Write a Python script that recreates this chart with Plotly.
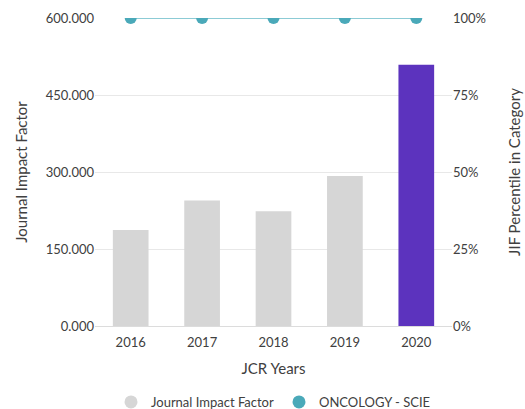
import plotly.graph_objects as go

years = ["2016", "2017", "2018", "2019", "2020"]
jif = [187.040, 244.585, 223.679, 292.278, 508.702]
percentile = [100, 100, 100, 100, 100]
bar_colors = ["#d6d6d6", "#d6d6d6", "#d6d6d6", "#d6d6d6", "#5c33be"]
series_names = ["Journal Impact Factor", "ONCOLOGY - SCIE"]

FONT = "Lato"
TXT = "#404040"

fig = go.Figure()
fig.add_trace(go.Bar(x=years, y=jif, marker=dict(color=bar_colors, line=dict(width=0)),
                     width=0.5, showlegend=False, yaxis="y"))
fig.add_trace(go.Scatter(x=years, y=percentile, mode="lines+markers", yaxis="y2",
                         line=dict(color="#8ccbd5", width=2),
                         marker=dict(color="#4aa9b9", size=12),
                         cliponaxis=True, showlegend=False))
# legend entries
fig.add_trace(go.Scatter(x=[None], y=[None], mode="markers", name=series_names[0],
                         marker=dict(color="#d6d6d6", size=13)))
fig.add_trace(go.Scatter(x=[None], y=[None], mode="markers", name=series_names[1],
                         marker=dict(color="#4aa9b9", size=13)))

fig.update_layout(
    width=525, height=409,
    margin=dict(l=95, r=73, t=18, b=83, autoexpand=False),
    plot_bgcolor="white", paper_bgcolor="white",
    font=dict(family=FONT, size=13, color=TXT),
    xaxis=dict(type="category", showgrid=False, showline=False, ticks="", automargin=False,
               ticklabelstandoff=7,
               title=dict(text="JCR Years", font=dict(size=15, color=TXT), standoff=14),
               tickfont=dict(size=13, color=TXT)),
    yaxis=dict(range=[0, 600], tick0=0, dtick=150, tickformat=".3f", automargin=False,
               gridcolor="#e8e8e8", zeroline=True, zerolinecolor="#dcdcdc", zerolinewidth=1,
               showline=False, ticks="",
               title=dict(text="Journal Impact Factor", font=dict(size=15, color=TXT), standoff=14),
               tickfont=dict(size=13, color=TXT)),
    yaxis2=dict(range=[0, 100], tick0=0, dtick=25, ticksuffix="%", overlaying="y", side="right",
                showgrid=False, zeroline=False, showline=False, ticks="", automargin=False,
                title=dict(text="JIF Percentile in Category", font=dict(size=15, color=TXT), standoff=24),
                tickfont=dict(size=13, color=TXT)),
    legend=dict(orientation="h", x=0.5, xanchor="center", y=-0.198, yanchor="top",
                font=dict(size=13, color=TXT), itemwidth=30),
)

fig.write_html("out.html", config={"displayModeBar": False},
               post_script="document.body.style.margin='0';document.body.style.overflow='hidden';")
